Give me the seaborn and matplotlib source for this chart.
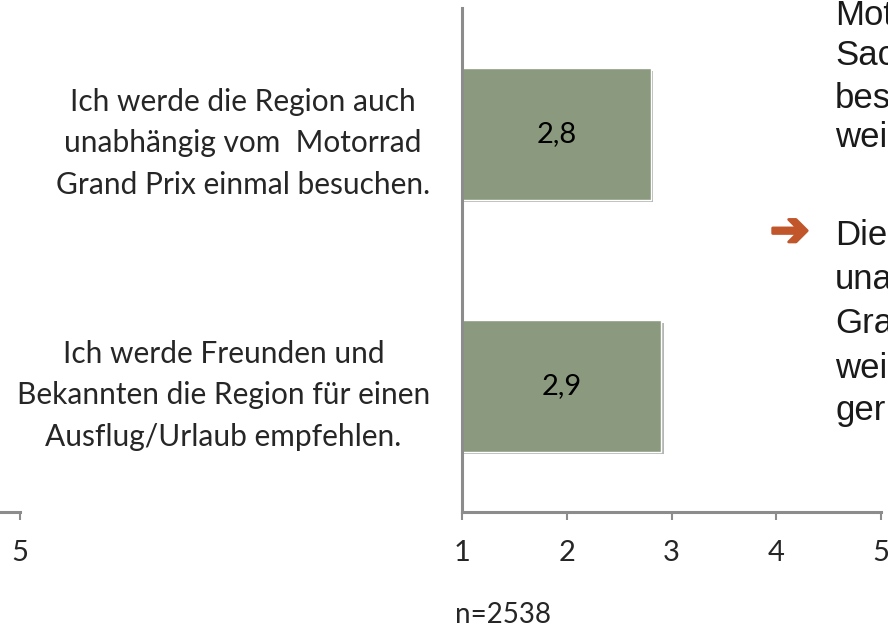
import numpy as np
import pandas as pd
import matplotlib
matplotlib.use("Agg")
import matplotlib.pyplot as plt
import matplotlib.patheffects as pe
import seaborn as sns

# -----------------------------
# DATA
# -----------------------------
statements = [
    "Ich werde die Region auch\nunabhängig vom  Motorrad\nGrand Prix einmal besuchen.",
    "Ich werde Freunden und\nBekannten die Region für einen\nAusflug/Urlaub empfehlen.",
]
means = [2.8, 2.9]
value_labels = ["2,8", "2,9"]
scale_ticks = [1, 2, 3, 4, 5]
sample_note = "n=2538"

# slide text to the right of the chart (only these fragments are in view)
side_block_1 = ["Mot", "Sac", "bes", "wei"]
side_block_2 = ["Die", "una", "Gra", "wei", "ger"]

# -----------------------------
# STYLE
# -----------------------------
sns.set_theme(style="white")
plt.rcParams["font.family"] = ["Lato", "DejaVu Sans"]

BAR_COLOR = "#8b9a7e"
AXIS_COLOR = "#8c8c8c"
W, H = 888, 628
FS = 21

df = pd.DataFrame({"statement": statements, "mean": means})

fig = plt.figure(figsize=(W / 100, H / 100), dpi=100)
ax = fig.add_axes([462 / W, 116 / H, 419 / W, 504 / H])

sns.barplot(data=df, y="statement", x="mean", orient="h", color=BAR_COLOR,
            saturation=1, width=0.52, ax=ax)

for patch in ax.patches:
    patch.set_path_effects([pe.SimplePatchShadow(offset=(2, -2), alpha=0.35),
                            pe.Normal()])

for i, (v, lab) in enumerate(zip(means, value_labels)):
    ax.text((1 + v) / 2, i, lab, ha="center", va="center", fontsize=FS, color="black")

ax.set_xlim(1, 5)
ax.set_ylim(1.5, -0.5)
ax.set_xticks(scale_ticks)
ax.set_xticklabels([str(t) for t in scale_ticks], fontsize=FS)
ax.set_xlabel("")
ax.set_ylabel("")
for side in ["top", "right"]:
    ax.spines[side].set_visible(False)
for side in ["left", "bottom"]:
    ax.spines[side].set_color(AXIS_COLOR)
    ax.spines[side].set_linewidth(2.2)
ax.tick_params(axis="x", direction="out", length=6, width=1.5, color=AXIS_COLOR, pad=14,
               bottom=True)
ax.tick_params(axis="y", length=0, pad=23, labelsize=21.5)
for t in ax.get_yticklabels():
    t.set_multialignment("center")
    t.set_linespacing(1.6)

# neighbouring chart's axis end on the left edge (only its "5" is in view)
ax2 = fig.add_axes([(20 - 419) / W, 116 / H, 419 / W, 10 / H])
ax2.set_xlim(1, 5)
ax2.set_yticks([])
ax2.set_xticks(scale_ticks)
ax2.set_xticklabels(["" for t in scale_ticks[:-1]] + [str(scale_ticks[-1])], fontsize=FS)
ax2.patch.set_alpha(0)
for side in ["top", "right", "left"]:
    ax2.spines[side].set_visible(False)
ax2.spines["bottom"].set_color(AXIS_COLOR)
ax2.spines["bottom"].set_linewidth(2.2)
ax2.tick_params(axis="x", direction="out", length=6, width=1.5, color=AXIS_COLOR, pad=14,
                bottom=True)

fig.text(455 / W, 1 - 615 / H, sample_note, ha="left", va="center", fontsize=20)

side_font = ["Liberation Sans", "DejaVu Sans"]
for word, y in zip(side_block_1, [25, 65, 108, 147]):
    fig.text(835 / W, 1 - y / H, word, ha="left", va="baseline", fontsize=25,
             family=side_font, color="#1a1a1a")
for word, y in zip(side_block_2, [245, 289, 333, 378, 420]):
    fig.text(835 / W, 1 - y / H, word, ha="left", va="baseline", fontsize=25,
             family=side_font, color="#1a1a1a")
fig.text(770 / W, 1 - 233 / H, "\u2794", ha="left", va="center", fontsize=34,
         family=["DejaVu Sans"], color="#c0562a",
         path_effects=[pe.withStroke(linewidth=2, foreground="#c0562a")])

fig.savefig("out.png", dpi=100)
